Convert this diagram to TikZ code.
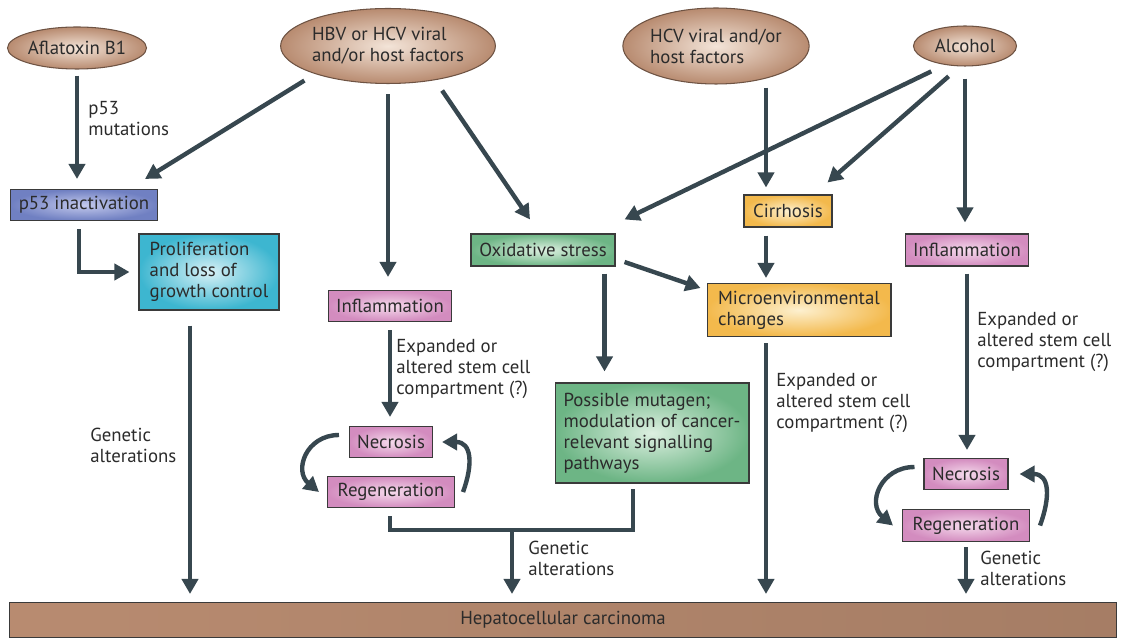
\documentclass[tikz,border=0pt]{standalone}
\usepackage{fontspec}
\setmainfont{PT Sans}
\usetikzlibrary{shapes.geometric,arrows.meta,positioning}

\definecolor{arrowc}{HTML}{37474F}
\definecolor{txt}{HTML}{2B2B2B}
\definecolor{boxline}{HTML}{3A3A3A}
\definecolor{srcin}{HTML}{F3E4D8}
\definecolor{srcout}{HTML}{B88B70}
\definecolor{blin}{HTML}{C3C9EC}
\definecolor{blout}{HTML}{7080C2}
\definecolor{cyin}{HTML}{D8F1F6}
\definecolor{cyout}{HTML}{3DB6D0}
\definecolor{pkin}{HTML}{F5DAEC}
\definecolor{pkout}{HTML}{D38CBF}
\definecolor{gnin}{HTML}{DDF0E1}
\definecolor{gnout}{HTML}{6DB585}
\definecolor{orin}{HTML}{FDF0CF}
\definecolor{orout}{HTML}{F3B94C}

\begin{document}
\begin{tikzpicture}[x=0.02cm,y=-0.02cm,%
    font=\fontsize{10.7}{12}\selectfont,%
    every node/.style={text=txt},%
    src/.style={ellipse,draw=srcout!60!black,line width=0.6pt,inner sep=0pt,%
                inner color=srcin,outer color=srcout,align=center},%
    box/.style={rectangle,draw=boxline,line width=0.6pt,inner sep=0pt,minimum height=0.62cm},%
    bbox/.style={box,inner color=blin,outer color=blout},%
    cbox/.style={box,inner color=cyin,outer color=cyout},%
    pbox/.style={box,inner color=pkin,outer color=pkout},%
    gbox/.style={box,inner color=gnin,outer color=gnout},%
    obox/.style={box,inner color=orin,outer color=orout},%
    arr/.style={draw=arrowc,line width=2.5pt,-{Triangle[length=0.3cm,width=0.32cm]}},%
    link/.style={draw=arrowc,line width=2.5pt},%
    lbl/.style={anchor=north west,align=left,inner sep=0pt}]
\useasboundingbox (0,0) rectangle (1121,641);
%\draw[help lines,step=50] (0,0) grid (1121,641);

% sources
\node[src,minimum width=2.56cm,minimum height=0.84cm] (afla) at (77,48) {Aflatoxin B1};
\node[src,minimum width=3.86cm,minimum height=1.5cm,align=left] (hbv) at (388,46) {HBV or HCV viral\\and/or host factors};
\node[src,minimum width=3.54cm,minimum height=1.52cm,align=left] (hcv) at (716,46) {HCV viral and/or\\host factors};
\node[src,minimum width=2.06cm,minimum height=0.8cm] (alc) at (965,46) {Alcohol};

% boxes
\node[bbox,minimum width=2.94cm] (p53) at (84,205) {p53 inactivation};
\node[cbox,minimum width=2.8cm,minimum height=1.52cm,align=left] (prolif) at (209,272) {Proliferation\\and loss of\\growth control};
\node[pbox,minimum width=2.46cm] (inflA) at (390,306) {Inflammation};
\node[pbox,minimum width=1.66cm] (necA) at (391,442) {Necrosis};
\node[pbox,minimum width=2.54cm] (regA) [below=0.36cm of necA] {Regeneration};
\node[gbox,minimum width=2.88cm,minimum height=0.64cm] (oxid) at (543,250) {Oxidative stress};
\node[gbox,minimum width=3.88cm,minimum height=2cm,align=left] (mut) at (652,433) {Possible mutagen;\\modulation of cancer-\\relevant signalling\\pathways};
\node[obox,minimum width=1.76cm,minimum height=0.64cm] (cirr) at (788,211) {Cirrhosis};
\node[obox,minimum width=3.68cm,minimum height=1.06cm,align=left] (micro) at (799,310) {Microenvironmental\\changes};
\node[pbox,minimum width=2.46cm,minimum height=0.64cm] (inflB) at (967,250) {Inflammation};
\node[pbox,minimum width=1.68cm] (necB) at (966,474) {Necrosis};
\node[pbox,minimum width=2.54cm,minimum height=0.64cm] (regB) [below=0.38cm of necB] {Regeneration};
\node[box,left color=srcout,middle color=srcin!65!srcout,right color=srcout!90!black,%
      minimum width=22.14cm,minimum height=0.7cm] (hcc) at (563,620) {Hepatocellular carcinoma};

% labels
\node[lbl] (mutl) at (88,101) {p53\\mutations};
\node[lbl] (genA) at (90,428) {Genetic\\alterations};
\node[lbl] (stemA) at (396,339) {Expanded or\\altered stem cell\\compartment (?)};
\node[lbl] (genB) at (528,541) {Genetic\\alterations};
\node[lbl] (stemB) at (776,373) {Expanded or\\altered stem cell\\compartment (?)};
\node[lbl] (stemC) at (977,312) {Expanded or\\altered stem cell\\compartment (?)};
\node[lbl] (genC) at (980,551) {Genetic\\alterations};

\coordinate (colA) at ([xshift=-0.38cm]prolif.south);
\coordinate (colO) at ([xshift=-0.22cm]oxid.south east);
\coordinate (colM) at ([xshift=-0.38cm]mut.south);
\coordinate (colB) at (766,0);
\coordinate (brk) at (512,530);

% arrows
\draw[arr,shorten <=0.12cm,shorten >=0.2cm] (afla.south) -- (afla.south |- p53.north);
\draw[arr,shorten <=0.25cm] (hbv.201) -- ([shift={(-0.26cm,0.2cm)}]p53.north east);
\draw[arr,shorten <=0.2cm,shorten >=0.26cm] (hbv.south) -- (hbv.south |- inflA.north);
\draw[arr,shorten <=0.25cm] (hbv.-36) -- ([shift={(-0.26cm,0.28cm)}]oxid.north);
\draw[arr,shorten <=0.06cm,shorten >=0.14cm] (hcv.south -| colB) -- (cirr.north -| colB);
\draw[arr,shorten <=0.3cm] (alc.223) -- ([shift={(0.18cm,0.28cm)}]oxid.north east);
\draw[arr,shorten <=0.3cm] (alc.256) -- ([shift={(-0.1cm,0.24cm)}]cirr.north east);
\draw[arr,shorten <=0.24cm,shorten >=0.22cm] (alc.south) -- (alc.south |- inflB.north);

\draw[arr,shorten <=0.16cm,shorten >=0.18cm] ([xshift=-0.1cm]p53.south) |- (prolif.west);
\draw[arr,shorten <=0.3cm,shorten >=0.16cm] (colA) -- (colA |- hcc.north);

\draw[arr,shorten <=0.16cm,shorten >=0.18cm] (inflA.south) -- (inflA.south |- necA.north);
\draw[arr] ([shift={(-0.2cm,0.14cm)}]necA.west) to[out=180,in=140,looseness=1.4] ([xshift=-0.16cm]regA.west);
\draw[arr] ([xshift=0.16cm]regA.east) to[out=70,in=0,looseness=1.4] ([xshift=0.18cm]necA.east);
\draw[link,shorten <=0.16cm,shorten >=0.1cm] (inflA |- regA.south) |- (brk) -| (colM);
\draw[arr,shorten >=0.16cm] (brk) -- (brk |- hcc.north);

\draw[arr,shorten <=0.14cm,shorten >=0.22cm] (colO) -- (colO |- mut.north);
\draw[arr] ([shift={(0.18cm,-0.24cm)}]oxid.east) -- ([shift={(-0.12cm,0.44cm)}]micro.west);
\draw[arr,shorten <=0.16cm,shorten >=0.1cm] (cirr.south -| colB) -- (micro.north -| colB);
\draw[arr,shorten <=0.12cm,shorten >=0.16cm] (micro.south -| colB) -- (hcc.north -| colB);

\draw[arr,shorten <=0.14cm,shorten >=0.16cm] (inflB.south) -- (inflB.south |- necB.north);
\draw[arr] ([shift={(-0.18cm,0.14cm)}]necB.west) to[out=180,in=140,looseness=1.4] ([xshift=-0.18cm]regB.west);
\draw[arr] ([xshift=0.2cm]regB.east) to[out=70,in=0,looseness=1.4] ([xshift=0.22cm]necB.east);
\draw[arr,shorten <=0.1cm,shorten >=0.16cm] (necB |- regB.south) -- (necB |- hcc.north);
\end{tikzpicture}
\end{document}
